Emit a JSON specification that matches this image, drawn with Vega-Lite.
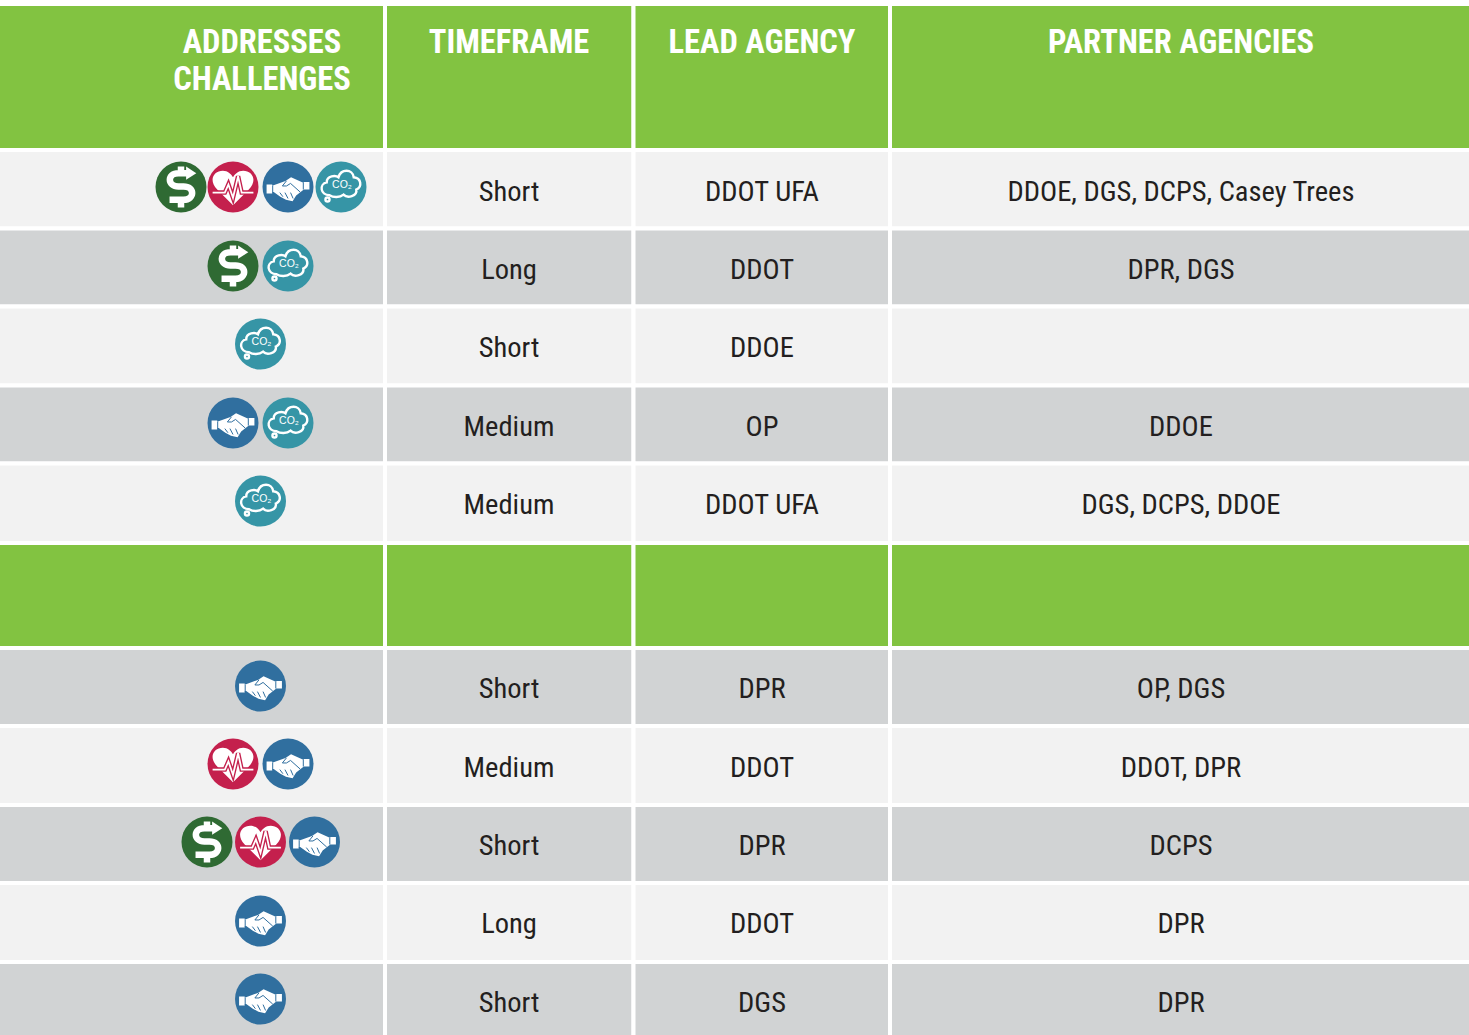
{"$schema":"https://vega.github.io/schema/vega-lite/v6.json","width":1469,"height":1035,"padding":0,"autosize":{"type":"fit","contains":"padding"},"background":"white","config":{"view":{"stroke":null},"axis":{"domain":false,"grid":false}},
"datasets":{"cells":[
{"row":0,"rowEnd":1,"col":1,"colEnd":2,"kind":"header","text":"ADDRESSES\nCHALLENGES"},{"row":0,"rowEnd":1,"col":2,"colEnd":3,"kind":"header","text":"TIMEFRAME"},{"row":0,"rowEnd":1,"col":3,"colEnd":4,"kind":"header","text":"LEAD AGENCY"},{"row":0,"rowEnd":1,"col":4,"colEnd":5,"kind":"header","text":"PARTNER AGENCIES"},
{"row":1,"rowEnd":2,"col":1,"colEnd":2,"kind":"light"},{"row":1,"rowEnd":2,"col":2,"colEnd":3,"kind":"light","text":"Short"},{"row":1,"rowEnd":2,"col":3,"colEnd":4,"kind":"light","text":"DDOT UFA"},{"row":1,"rowEnd":2,"col":4,"colEnd":5,"kind":"light","text":"DDOE, DGS, DCPS, Casey Trees"},
{"row":2,"rowEnd":3,"col":1,"colEnd":2,"kind":"grey"},{"row":2,"rowEnd":3,"col":2,"colEnd":3,"kind":"grey","text":"Long"},{"row":2,"rowEnd":3,"col":3,"colEnd":4,"kind":"grey","text":"DDOT"},{"row":2,"rowEnd":3,"col":4,"colEnd":5,"kind":"grey","text":"DPR, DGS"},
{"row":3,"rowEnd":4,"col":1,"colEnd":2,"kind":"light"},{"row":3,"rowEnd":4,"col":2,"colEnd":3,"kind":"light","text":"Short"},{"row":3,"rowEnd":4,"col":3,"colEnd":4,"kind":"light","text":"DDOE"},{"row":3,"rowEnd":4,"col":4,"colEnd":5,"kind":"light"},
{"row":4,"rowEnd":5,"col":1,"colEnd":2,"kind":"grey"},{"row":4,"rowEnd":5,"col":2,"colEnd":3,"kind":"grey","text":"Medium"},{"row":4,"rowEnd":5,"col":3,"colEnd":4,"kind":"grey","text":"OP"},{"row":4,"rowEnd":5,"col":4,"colEnd":5,"kind":"grey","text":"DDOE"},
{"row":5,"rowEnd":6,"col":1,"colEnd":2,"kind":"light"},{"row":5,"rowEnd":6,"col":2,"colEnd":3,"kind":"light","text":"Medium"},{"row":5,"rowEnd":6,"col":3,"colEnd":4,"kind":"light","text":"DDOT UFA"},{"row":5,"rowEnd":6,"col":4,"colEnd":5,"kind":"light","text":"DGS, DCPS, DDOE"},
{"row":6,"rowEnd":7,"col":1,"colEnd":2,"kind":"header"},{"row":6,"rowEnd":7,"col":2,"colEnd":3,"kind":"header"},{"row":6,"rowEnd":7,"col":3,"colEnd":4,"kind":"header"},{"row":6,"rowEnd":7,"col":4,"colEnd":5,"kind":"header"},
{"row":7,"rowEnd":8,"col":1,"colEnd":2,"kind":"grey"},{"row":7,"rowEnd":8,"col":2,"colEnd":3,"kind":"grey","text":"Short"},{"row":7,"rowEnd":8,"col":3,"colEnd":4,"kind":"grey","text":"DPR"},{"row":7,"rowEnd":8,"col":4,"colEnd":5,"kind":"grey","text":"OP, DGS"},
{"row":8,"rowEnd":9,"col":1,"colEnd":2,"kind":"light"},{"row":8,"rowEnd":9,"col":2,"colEnd":3,"kind":"light","text":"Medium"},{"row":8,"rowEnd":9,"col":3,"colEnd":4,"kind":"light","text":"DDOT"},{"row":8,"rowEnd":9,"col":4,"colEnd":5,"kind":"light","text":"DDOT, DPR"},
{"row":9,"rowEnd":10,"col":1,"colEnd":2,"kind":"grey"},{"row":9,"rowEnd":10,"col":2,"colEnd":3,"kind":"grey","text":"Short"},{"row":9,"rowEnd":10,"col":3,"colEnd":4,"kind":"grey","text":"DPR"},{"row":9,"rowEnd":10,"col":4,"colEnd":5,"kind":"grey","text":"DCPS"},
{"row":10,"rowEnd":11,"col":1,"colEnd":2,"kind":"light"},{"row":10,"rowEnd":11,"col":2,"colEnd":3,"kind":"light","text":"Long"},{"row":10,"rowEnd":11,"col":3,"colEnd":4,"kind":"light","text":"DDOT"},{"row":10,"rowEnd":11,"col":4,"colEnd":5,"kind":"light","text":"DPR"},
{"row":11,"rowEnd":12,"col":1,"colEnd":2,"kind":"grey"},{"row":11,"rowEnd":12,"col":2,"colEnd":3,"kind":"grey","text":"Short"},{"row":11,"rowEnd":12,"col":3,"colEnd":4,"kind":"grey","text":"DGS"},{"row":11,"rowEnd":12,"col":4,"colEnd":5,"kind":"grey","text":"DPR"}
],
"icons":[
{"row":1,"slot":-1.5,"icon":"cost"},{"row":1,"slot":-0.5,"icon":"health"},{"row":1,"slot":0.5,"icon":"equity"},{"row":1,"slot":1.5,"icon":"climate"},
{"row":2,"slot":-0.5,"icon":"cost"},{"row":2,"slot":0.5,"icon":"climate"},
{"row":3,"slot":0,"icon":"climate"},
{"row":4,"slot":-0.5,"icon":"equity"},{"row":4,"slot":0.5,"icon":"climate"},
{"row":5,"slot":0,"icon":"climate"},
{"row":7,"slot":0,"icon":"equity"},
{"row":8,"slot":-0.5,"icon":"health"},{"row":8,"slot":0.5,"icon":"equity"},
{"row":9,"slot":-1,"icon":"cost"},{"row":9,"slot":0,"icon":"health"},{"row":9,"slot":1,"icon":"equity"},
{"row":10,"slot":0,"icon":"equity"},
{"row":11,"slot":0,"icon":"equity"}
]},
"layer":[
{"data":{"name":"cells"},"mark":{"type":"rect","stroke":"white","strokeWidth":4,"clip":true},
"encoding":{"x":{"field":"col","type":"quantitative","axis":null,"scale":{"domain":[1,2,3,4,5],"range":[-10,385,633.5,890,1472],"zero":false,"nice":false}},"x2":{"field":"colEnd"},
"y":{"field":"row","type":"quantitative","axis":null,"scale":{"domain":[0,1,2,3,4,5,6,7,8,9,10,11,12],"range":[4,150,228.5,306.5,385.5,463.5,543,648,726,805,883,962,1040],"zero":false,"nice":false}},"y2":{"field":"rowEnd"},
"fill":{"field":"kind","type":"nominal","legend":null,"scale":{"domain":["header","light","grey"],"range":["#82C341","#F2F2F2","#D1D3D4"]}}}},
{"data":{"name":"cells"},"transform":[{"filter":"isValid(datum.text)"}],
"layer":[
{"transform":[{"filter":"datum.row == 0"}],"mark":{"type":"text","font":"Roboto Condensed","fontWeight":"bold","fontSize":32.5,"fill":"white","align":"center","baseline":"alphabetic","lineBreak":"\n","lineHeight":37},"encoding":{"text":{"field":"text","type":"nominal"}}},
{"transform":[{"filter":"datum.row > 0"}],"mark":{"type":"text","font":"Roboto Condensed","fontSize":28.5,"fill":"#231F20","align":"center","baseline":"middle"},"encoding":{"text":{"field":"text","type":"nominal"}}}
],
"encoding":{"x":{"field":"col","type":"quantitative","axis":null,"scale":{"domain":[1,2,3,4],"range":[262,509,762,1181],"zero":false,"nice":false}},
"y":{"field":"row","type":"quantitative","axis":null,"scale":{"domain":[0,1,2,3,4,5,6,7,8,9,10,11],"range":[53,192,270,348,427,505,595,689,768,846,924,1003],"zero":false,"nice":false}}}},
{"data":{"name":"icons"},
"encoding":{"x":{"field":"slot","type":"quantitative","axis":null,"scale":{"domain":[-1.5,-0.5,0.5,1.5],"range":[181,233,288,341],"zero":false,"nice":false}},
"y":{"field":"row","type":"quantitative","axis":null,"scale":{"domain":[1,2,3,4,5,6,7,8,9,10,11],"range":[187,266,344,423,501,595,686,764,842,921,999],"zero":false,"nice":false}}},
"layer":[
{"mark":{"type":"point","shape":"circle","filled":true,"opacity":1,"size":2601},"encoding":{"fill":{"field":"icon","type":"nominal","legend":null,"scale":{"domain":["cost","health","equity","climate"],"range":["#2F6A33","#C4204D","#306F9F","#3695A6"]}}}},
{"transform":[{"filter":"datum.icon == 'cost'"}],"mark":{"type":"point","filled":false,"opacity":1,"size":2601,"stroke":"white","strokeWidth":6.5,"shape":"M0.3 -0.54 H-0.1 C-0.55 -0.54 -0.55 -0.02 -0.1 -0.02 H0.1 C0.55 -0.02 0.55 0.5 0.1 0.5 H-0.45 M0 -0.8 V-0.5 M0 0.5 V0.8"}},
{"transform":[{"filter":"datum.icon == 'cost'"}],"mark":{"type":"point","filled":true,"opacity":1,"size":2601,"fill":"white","shape":"M0.2 -0.8 L0.6 -0.54 L0.2 -0.28 Z"}},
{"transform":[{"filter":"datum.icon == 'health'"}],"mark":{"type":"point","filled":true,"opacity":1,"size":2601,"fill":"white","shape":"M0 0.72 L-0.62 0.1 C-0.98 -0.28 -0.75 -0.64 -0.4 -0.64 C-0.2 -0.64 -0.06 -0.5 0 -0.38 C0.06 -0.5 0.2 -0.64 0.4 -0.64 C0.75 -0.64 0.98 -0.28 0.62 0.1 Z"}},
{"transform":[{"filter":"datum.icon == 'health'"}],"mark":{"type":"point","filled":false,"opacity":1,"size":2601,"stroke":"#C4204D","strokeWidth":4.5,"shape":"M-0.8 0.22 H-0.32 L-0.18 -0.1 L0 0.42 L0.2 -0.42 L0.34 0.22 H0.8"}},
{"transform":[{"filter":"datum.icon == 'health'"}],"mark":{"type":"point","filled":false,"opacity":1,"size":2601,"stroke":"white","strokeWidth":1.8,"shape":"M-0.8 0.22 H-0.32 L-0.18 -0.1 L0 0.42 L0.2 -0.42 L0.34 0.22 H0.8"}},
{"transform":[{"filter":"datum.icon == 'equity'"}],"mark":{"type":"point","filled":true,"opacity":1,"size":2601,"fill":"white","shape":"M-0.84 -0.1 H-0.62 V-0.05 L-0.1 -0.24 L0.12 -0.38 L0.62 -0.16 V-0.2 H0.84 V0.1 H0.62 V0.1 L0.32 0.33 L0.18 0.56 L-0.08 0.5 L-0.3 0.38 L-0.56 0.2 H-0.62 V0.25 H-0.84 Z"}},
{"transform":[{"filter":"datum.icon == 'equity'"}],"mark":{"type":"point","filled":false,"opacity":1,"size":2601,"stroke":"#306F9F","strokeWidth":1,"shape":"M-0.6 -0.05 V0.22 M0.6 -0.16 V0.1 M-0.06 -0.24 L-0.22 -0.04 L-0.06 -0.04 L0.1 -0.14 L0.48 0.2 M-0.32 0.22 L-0.2 0.38 M-0.12 0.22 L0 0.45 M0.1 0.22 L0.2 0.45"}},
{"transform":[{"filter":"datum.icon == 'climate'"}],"mark":{"type":"point","filled":false,"opacity":1,"size":2601,"stroke":"white","strokeWidth":2.4,"shape":"M-0.45 0.32 C-0.82 0.32 -0.86 -0.12 -0.56 -0.18 C-0.56 -0.46 -0.2 -0.46 -0.1 -0.38 C0 -0.72 0.45 -0.72 0.5 -0.38 C0.8 -0.35 0.84 0 0.6 0.1 C0.65 0.36 0.25 0.46 0.1 0.3 C-0.05 0.42 -0.3 0.42 -0.45 0.32 Z M-0.61 0.49 A0.08 0.08 0 1 1 -0.45 0.49 A0.08 0.08 0 1 1 -0.61 0.49 Z"}},
{"transform":[{"filter":"datum.icon == 'climate'"}],"mark":{"type":"text","text":"CO₂","font":"Liberation Sans","fontSize":10.5,"fill":"white","align":"center","baseline":"middle","dy":-2,"dx":1}}
]}
],
"resolve":{"scale":{"x":"independent","y":"independent","fill":"independent"}}}
